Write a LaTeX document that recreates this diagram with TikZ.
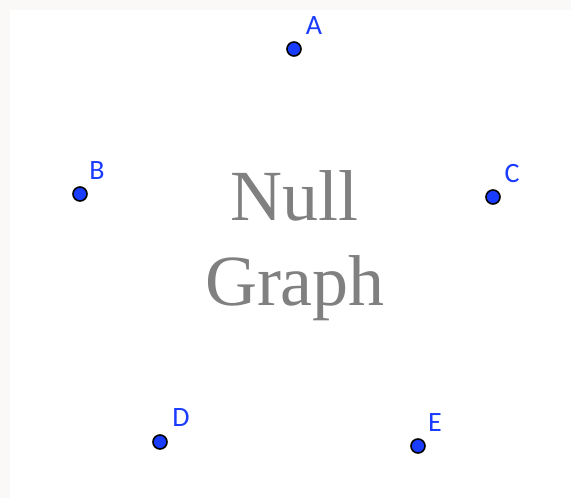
\documentclass[tikz,border=0pt]{standalone}
\usepackage{fontspec}
\setmainfont{Liberation Serif}
\newfontfamily\lblfont{Carlito}
\definecolor{ptblue}{HTML}{1A3CFF}
\definecolor{lblblue}{HTML}{1A3CFF}
\definecolor{framegray}{HTML}{FAF9F7}
\definecolor{titlegray}{HTML}{808080}
\tikzset{
  vertex/.style={circle, draw=black, fill=ptblue, line width=1.6pt, minimum size=14pt, inner sep=0pt},
  lbl/.style={text=lblblue, font=\lblfont\fontsize{28}{28}\selectfont, inner sep=0pt},
  title/.style={text=titlegray, font=\fontsize{72}{85}\selectfont, align=center, inner sep=0pt}
}
\begin{document}
\begin{tikzpicture}[x=1pt, y=-1pt]
        \useasboundingbox (0,0) rectangle (571,498);
        \fill [framegray] (0,0) rectangle (571,498);
        \fill [white] (10,10) rectangle (571,498);
        % points
        \node [vertex] (A) at (294,49) {};
        \node [vertex] (B) at (80,194) {};
        \node [vertex] (C) at (493,197) {};
        \node [vertex] (D) at (160,442) {};
        \node [vertex] (E) at (418,446) {};
        % names
        \node [lbl] (labA) at (314,26) {A};
        \node [lbl] (labB) at (97,171) {B};
        \node [lbl] (labC) at (512,174) {C};
        \node [lbl] (labD) at (181,418) {D};
        \node [lbl] (labE) at (435,423) {E};
        \node [title] (null) at (295,246) {Null\\Graph};
\end{tikzpicture}
\end{document}
